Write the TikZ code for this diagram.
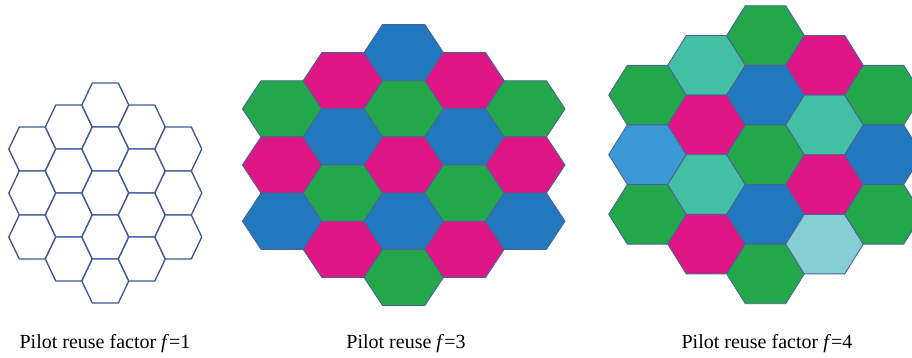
\documentclass[tikz,border=0pt]{standalone}
\usepackage{fontspec}
\setmainfont{Liberation Serif}
\definecolor{cellgreen}{HTML}{22A84A}
\definecolor{cellmagenta}{HTML}{DF1685}
\definecolor{cellblue}{HTML}{2278BF}
\definecolor{cellteal}{HTML}{43BFA3}
\definecolor{cellsky}{HTML}{3A98D5}
\definecolor{cellpale}{HTML}{85CFD4}
\definecolor{edgeblue}{HTML}{3E5A96}
\definecolor{edgesoft}{HTML}{4A6396}
\tikzset{
  x=1pt, y=-1pt,
  plaincell/.style={draw=edgeblue, line width=1.35pt, line join=round, fill=white},
  colorcell/.style={draw=edgesoft, line width=0.9pt, line join=round},
  caption/.style={anchor=base, inner sep=0pt, font=\fontsize{20}{24}\selectfont},
}
% flat-top hexagon: centre (#1,#2), half width #3, half top edge #4, half height #5, style #6
\newcommand\hexcell[6]{%
  \path[#6] (#1-#3,#2) -- (#1-#4,#2-#5) -- (#1+#4,#2-#5) -- (#1+#3,#2)
    -- (#1+#4,#2+#5) -- (#1-#4,#2+#5) -- cycle;}
\begin{document}
\begin{tikzpicture}
\useasboundingbox (0,0) rectangle (912,357);
\begin{scope}
\clip (0,0) rectangle (912,357);

% reuse factor 1: outlined cells
\foreach \c/\r in {0/-2,0/0,0/2, 1/-3,1/-1,1/1,1/3, 2/-4,2/-2,2/0,2/2,2/4,
                   3/-3,3/-1,3/1,3/3, 4/-2,4/0,4/2}{
  \pgfmathsetmacro\cx{105.3+(\c-2)*36.5}
  \pgfmathsetmacro\cy{193+\r*22}
  \hexcell{\cx}{\cy}{23.5}{13}{22}{plaincell}
}

% reuse factor 3
\foreach \c/\r/\col in {0/-2/cellgreen,0/0/cellmagenta,0/2/cellblue,
    1/-3/cellmagenta,1/-1/cellblue,1/1/cellgreen,1/3/cellmagenta,
    2/-4/cellblue,2/-2/cellgreen,2/0/cellmagenta,2/2/cellblue,2/4/cellgreen,
    3/-3/cellmagenta,3/-1/cellblue,3/1/cellgreen,3/3/cellmagenta,
    4/-2/cellgreen,4/0/cellmagenta,4/2/cellblue}{
  \pgfmathsetmacro\cx{403.7+(\c-2)*60.8}
  \pgfmathsetmacro\cy{165+\r*28.1}
  \hexcell{\cx}{\cy}{39.7}{21.1}{28.1}{colorcell, fill=\col}
}

% reuse factor 4
\foreach \c/\r/\col in {0/-2/cellgreen,0/0/cellsky,0/2/cellgreen,
    1/-3/cellteal,1/-1/cellmagenta,1/1/cellteal,1/3/cellmagenta,
    2/-4/cellgreen,2/-2/cellblue,2/0/cellgreen,2/2/cellblue,2/4/cellgreen,
    3/-3/cellmagenta,3/-1/cellteal,3/1/cellmagenta,3/3/cellpale,
    4/-2/cellgreen,4/0/cellblue,4/2/cellgreen}{
  \pgfmathsetmacro\cx{765.5+(\c-2)*59}
  \pgfmathsetmacro\cy{154.7+\r*29.8}
  \hexcell{\cx}{\cy}{38.8}{20.2}{29.8}{colorcell, fill=\col}
}
\end{scope}

\node[caption] (capA) at (105,348) {Pilot reuse factor \textit{f}=1};
\node[caption] (capB) at (406,348) {Pilot reuse \textit{f}=3};
\node[caption] (capC) at (767,348) {Pilot reuse factor \textit{f}=4};
\end{tikzpicture}
\end{document}
